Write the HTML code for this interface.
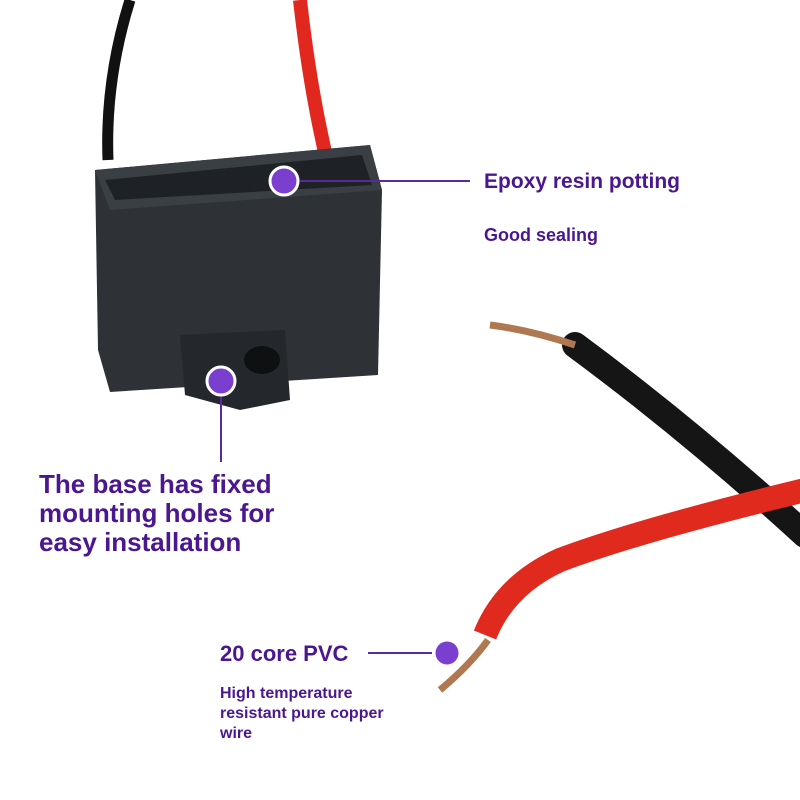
<!DOCTYPE html>
<html><head><meta charset="utf-8"><style>
html,body{margin:0;padding:0;background:#fff;}
svg{display:block}
text{font-family:"Liberation Sans",sans-serif;font-weight:bold;fill:#4b1790}
</style></head><body>
<svg width="800" height="800" viewBox="0 0 800 800" xmlns="http://www.w3.org/2000/svg">
<rect width="800" height="800" fill="#fff"/>
<path d="M130 0 Q105 80 108 160" stroke="#111" stroke-width="11" fill="none"/>
<path d="M300 0 Q310 90 328 165" stroke="#e0281e" stroke-width="14" fill="none"/>
<polygon points="95,170 370,145 382,190 378,375 110,392 98,350" fill="#2e3236"/>
<polygon points="95,170 370,145 382,190 110,210" fill="#3a3f44"/>
<polygon points="105,180 362,155 372,185 115,200" fill="#1e2226"/>
<polygon points="180,335 285,330 290,400 240,410 185,395" fill="#24282c"/>
<ellipse cx="262" cy="360" rx="18" ry="14" fill="#0e1012"/>
<path d="M575 345 Q690 430 805 535" stroke="#151515" stroke-width="26" fill="none" stroke-linecap="round"/>
<path d="M805 490 Q640 530 560 560 Q505 585 485 635" stroke="#e02a1e" stroke-width="24" fill="none"/>
<path d="M575 345 Q530 330 490 325" stroke="#b07850" stroke-width="7" fill="none"/>
<path d="M488 640 Q470 665 440 690" stroke="#b07850" stroke-width="7" fill="none"/>
<line x1="300" y1="181" x2="470" y2="181" stroke="#5b2a9c" stroke-width="2"/>
<circle cx="284" cy="181" r="14" fill="#7b3fd0" stroke="#fff" stroke-width="3"/>
<text x="484" y="188" font-size="21">Epoxy resin potting</text>
<text x="484" y="241" font-size="18">Good sealing</text>
<line x1="221" y1="395" x2="221" y2="462" stroke="#5b2a9c" stroke-width="2"/>
<circle cx="221" cy="381" r="14" fill="#7b3fd0" stroke="#fff" stroke-width="3"/>
<text x="39" y="493" font-size="26">The base has fixed</text>
<text x="39" y="522" font-size="26">mounting holes for</text>
<text x="39" y="551" font-size="26">easy installation</text>
<line x1="368" y1="653" x2="432" y2="653" stroke="#5b2a9c" stroke-width="2"/>
<circle cx="447" cy="653" r="13" fill="#7b3fd0" stroke="#fff" stroke-width="3"/>
<text x="220" y="661" font-size="22">20 core PVC</text>
<text x="220" y="698" font-size="16">High temperature</text>
<text x="220" y="718" font-size="16">resistant pure copper</text>
<text x="220" y="738" font-size="16">wire</text>
</svg>
</body></html>
